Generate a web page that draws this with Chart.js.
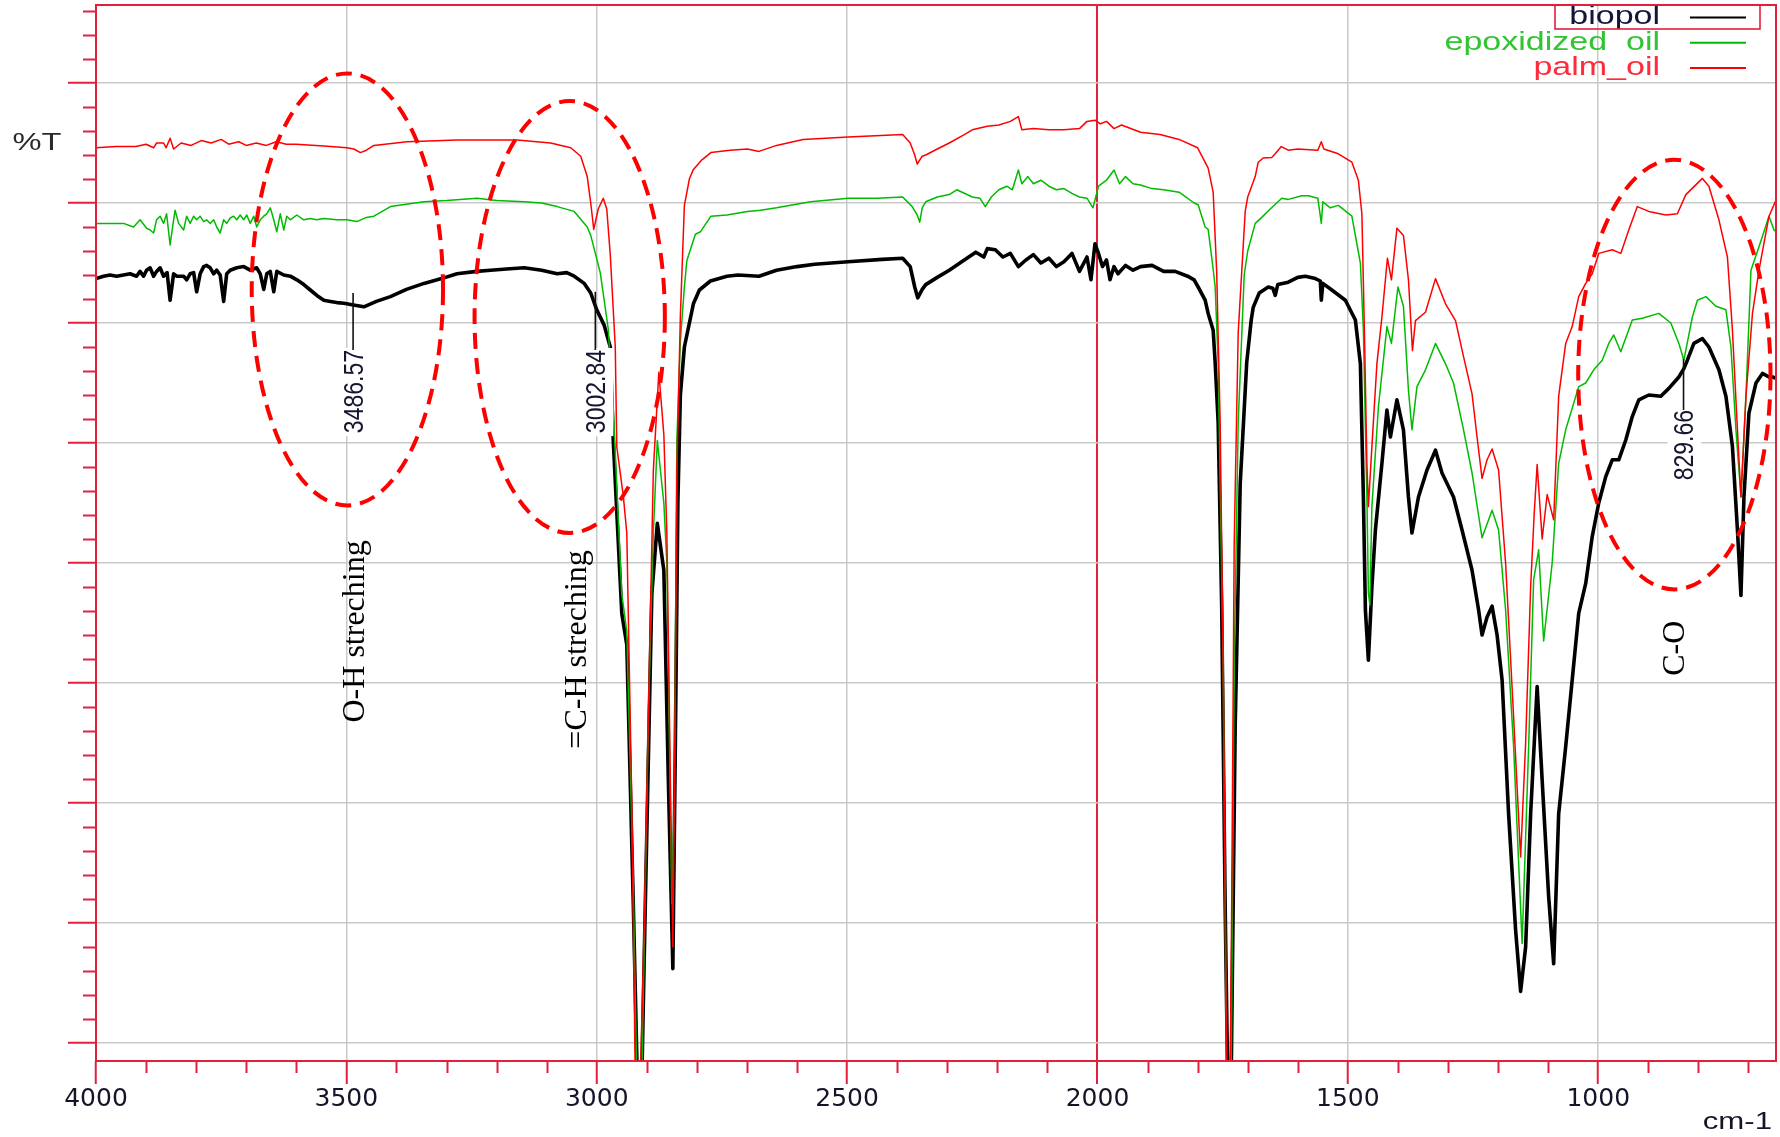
<!DOCTYPE html>
<html>
<head>
<meta charset="utf-8">
<script src="https://cdn.jsdelivr.net/npm/chart.js@4.4.1/dist/chart.umd.min.js"></script>
<style>
html,body{margin:0;padding:0;background:#fff;}
#c{display:block;}
</style>
</head>
<body>
<canvas id="c" width="1780" height="1137"></canvas>
<script>
// ---- data: [wavenumber cm-1, %T (arbitrary units, gridlines every 10)] ----
const seriesLabels = ['biopol', 'epoxidized  oil', 'palm_oil'];

const biopol = [[4000,63.7],[3985,63.9],[3972,64.0],[3959,63.9],[3945,64.0],[3932,64.1],[3919,63.9],[3912,64.3],[3905,63.9],[3899,64.4],[3892,64.6],[3885,63.9],[3879,64.3],[3872,64.6],[3865,63.9],[3858,64.2],[3852,61.9],[3845,64.1],[3839,63.9],[3825,63.9],[3819,63.6],[3812,64.1],[3805,64.2],[3799,62.6],[3792,64.1],[3785,64.7],[3779,64.8],[3772,64.6],[3765,64.1],[3759,64.4],[3752,64.0],[3745,61.8],[3739,64.1],[3732,64.4],[3719,64.6],[3705,64.7],[3692,64.4],[3679,64.6],[3672,64.1],[3665,62.8],[3659,64.1],[3652,64.3],[3645,62.6],[3639,64.3],[3625,64.0],[3612,63.9],[3599,63.6],[3585,63.2],[3572,62.75],[3559,62.3],[3545,61.9],[3532,61.8],[3519,61.7],[3505,61.65],[3486,61.5],[3465,61.35],[3440,61.8],[3412,62.2],[3380,62.8],[3345,63.3],[3310,63.7],[3279,64.1],[3240,64.3],[3212,64.4],[3180,64.5],[3145,64.6],[3110,64.4],[3079,64.1],[3060,64.2],[3045,63.9],[3025,63.3],[3012,62.5],[3000,61.1],[2985,59.8],[2973,58.0],[2967,50.2],[2950,35.8],[2940,33.2],[2927,11.6],[2919,-3],[2910,-3],[2903,11.6],[2890,37.4],[2879,43.3],[2866,39.4],[2857,21.9],[2848,6.2],[2843,25],[2838,45],[2833,54],[2825,58],[2807,61.6],[2795,62.75],[2773,63.5],[2740,63.9],[2718,64.0],[2676,63.9],[2641,64.4],[2600,64.7],[2565,64.9],[2498,65.1],[2430,65.3],[2389,65.4],[2374,64.7],[2365,63.0],[2359,62.1],[2350,62.8],[2343,63.2],[2320,63.8],[2296,64.4],[2266,65.25],[2243,65.9],[2227,65.5],[2220,66.2],[2204,66.1],[2189,65.5],[2174,65.8],[2158,64.7],[2143,65.25],[2128,65.7],[2113,65.0],[2097,65.4],[2082,64.7],[2067,65.1],[2051,65.8],[2036,64.3],[2021,65.5],[2013,63.6],[2005,66.6],[1998,65.8],[1990,64.7],[1982,65.25],[1975,63.6],[1967,64.7],[1959,64.1],[1944,64.8],[1929,64.4],[1914,64.7],[1891,64.8],[1868,64.3],[1845,64.3],[1820,63.9],[1807,63.6],[1799,63.0],[1785,61.9],[1779,60.8],[1769,59.4],[1765,56.7],[1759,51.7],[1752,36.5],[1745,11.3],[1740,-3],[1733,-3],[1725,26.4],[1715,46.6],[1702,56.7],[1693,60.25],[1689,61.3],[1677,62.5],[1659,63.0],[1650,62.9],[1645,62.3],[1640,63.2],[1619,63.4],[1600,63.8],[1585,63.9],[1565,63.7],[1555,63.5],[1553,61.9],[1550,63.3],[1532,62.75],[1505,61.9],[1485,60.25],[1475,56.6],[1469,45.5],[1465,36.1],[1459,31.9],[1452,38.0],[1445,42.75],[1432,48.3],[1422,52.75],[1415,50.5],[1402,53.6],[1389,51.1],[1379,45.5],[1372,42.5],[1359,45.5],[1342,47.75],[1325,49.4],[1312,47.5],[1289,45.5],[1272,42.75],[1252,39.4],[1239,36.1],[1232,34.0],[1222,35.5],[1212,36.4],[1202,34.0],[1192,30.25],[1179,19.1],[1165,9.4],[1155,4.3],[1145,8.0],[1135,19.1],[1122,29.7],[1112,21.9],[1099,12.2],[1089,6.6],[1079,19.1],[1065,24.7],[1052,30.25],[1039,35.8],[1025,38.3],[1012,42.2],[999,45.0],[985,47.2],[972,48.6],[959,48.6],[945,50.25],[932,52.2],[919,53.6],[899,54.0],[875,53.9],[859,54.55],[839,55.5],[829,56.2],[822,56.9],[809,58.3],[792,58.7],[779,58.0],[759,56.1],[745,53.9],[732,49.7],[722,42.75],[715,37.3],[709,45.5],[699,52.5],[685,55.0],[672,55.8],[659,55.5],[652,55.5],[645,55.4]];

const epoxidizedOil = [[4000,68.3],[3972,68.3],[3945,68.3],[3932,68.1],[3925,68.0],[3912,68.6],[3899,67.9],[3892,67.75],[3885,67.5],[3879,68.6],[3872,68.9],[3865,68.3],[3859,69.1],[3852,66.5],[3845,68.6],[3842,69.4],[3835,68.3],[3825,67.75],[3819,68.9],[3812,68.3],[3805,68.9],[3799,68.6],[3792,68.9],[3785,68.45],[3779,68.6],[3772,68.3],[3765,68.6],[3759,68.0],[3752,67.5],[3745,68.6],[3739,68.3],[3732,68.75],[3725,68.9],[3719,68.6],[3712,69.0],[3705,68.6],[3699,69.0],[3692,68.3],[3685,68.9],[3679,68.0],[3672,68.6],[3665,68.9],[3659,69.1],[3652,69.6],[3645,68.6],[3639,67.6],[3632,69.1],[3625,67.75],[3619,68.9],[3612,68.6],[3599,69.0],[3585,68.6],[3572,68.7],[3559,68.6],[3545,68.7],[3519,68.6],[3499,68.6],[3479,68.45],[3460,68.8],[3445,68.9],[3412,69.7],[3380,69.9],[3345,70.1],[3300,70.2],[3239,70.4],[3200,70.2],[3145,70.1],[3110,70.0],[3079,69.7],[3045,69.3],[3019,68.0],[3012,67.3],[2993,64.2],[2977,59.5],[2967,52.8],[2950,37.4],[2940,34.3],[2928,15],[2920,-3],[2910,-3],[2897,27],[2887,42.5],[2879,50.2],[2866,45],[2860,40],[2850,11.6],[2845,20],[2840,50.2],[2833,58.5],[2825,63],[2820,65.2],[2803,67.4],[2793,67.6],[2772,68.9],[2740,69.0],[2699,69.3],[2673,69.4],[2641,69.6],[2573,70.1],[2498,70.4],[2440,70.4],[2389,70.5],[2370,69.7],[2360,69.0],[2355,68.4],[2350,69.6],[2343,70.1],[2320,70.5],[2296,70.7],[2281,71.1],[2250,70.5],[2235,70.4],[2224,69.7],[2212,70.5],[2197,71.1],[2181,71.4],[2170,71.1],[2158,72.75],[2151,71.6],[2139,72.2],[2128,71.6],[2113,71.9],[2097,71.4],[2082,71.1],[2067,71.2],[2051,70.8],[2036,70.5],[2021,70.4],[2009,69.6],[1998,71.4],[1982,71.9],[1967,72.75],[1956,71.6],[1944,72.2],[1929,71.6],[1914,71.5],[1891,71.2],[1868,71.1],[1837,70.9],[1807,70.0],[1799,69.85],[1785,68.0],[1779,67.8],[1769,64.5],[1765,63.0],[1759,56.7],[1749,31.5],[1742,-3],[1733,-3],[1727,31.5],[1719,51.7],[1707,64.0],[1700,66.0],[1685,68.3],[1672,68.8],[1655,69.5],[1632,70.4],[1619,70.3],[1592,70.6],[1579,70.6],[1560,70.4],[1553,68.3],[1550,70.1],[1535,69.6],[1519,69.8],[1492,68.9],[1475,65.0],[1469,59.4],[1462,45.5],[1459,37.5],[1456,36.5],[1452,44.7],[1439,53.0],[1422,59.7],[1413,58.3],[1400,63.0],[1389,61.4],[1379,54.4],[1372,51.1],[1362,54.7],[1345,56.1],[1325,58.3],[1305,56.6],[1289,55.0],[1269,51.1],[1252,47.5],[1232,42.1],[1212,44.4],[1199,42.75],[1185,36.1],[1169,24.7],[1152,8.3],[1139,24.7],[1129,38.6],[1119,41.1],[1109,33.5],[1092,40.0],[1079,48.3],[1065,51.1],[1039,54.7],[1025,55.0],[1009,56.1],[992,56.9],[979,58.3],[969,59.0],[955,57.6],[932,60.25],[912,60.4],[879,60.8],[855,60.0],[839,58.3],[829,56.9],[812,60.5],[802,61.9],[785,62.2],[765,61.4],[745,61.1],[735,58.0],[725,51.1],[715,45.5],[705,53.9],[695,64.4],[679,66.35],[659,68.9],[649,67.75],[645,67.6]];

const palmOil = [[4000,74.6],[3960,74.7],[3920,74.7],[3900,74.9],[3885,74.6],[3879,75.0],[3865,75.0],[3860,74.6],[3852,75.4],[3845,74.5],[3830,75.0],[3810,74.8],[3790,75.2],[3770,75.0],[3750,75.3],[3735,74.9],[3715,75.1],[3700,74.8],[3680,75.0],[3660,74.8],[3640,75.1],[3620,74.9],[3600,74.9],[3545,74.75],[3499,74.6],[3485,74.5],[3472,74.2],[3460,74.4],[3445,74.8],[3379,75.1],[3279,75.25],[3159,75.25],[3092,75.0],[3052,74.6],[3032,73.9],[3019,72.2],[3012,70.0],[3006,67.8],[2997,69.5],[2987,70.4],[2980,69.5],[2973,65.7],[2963,58.0],[2960,49.7],[2947,45.6],[2940,42.5],[2930,20],[2923,-3],[2913,-3],[2905,10],[2897,27],[2887,47.7],[2876,55.9],[2866,50.7],[2860,42.5],[2853,21.9],[2848,8],[2843,30],[2840,47.7],[2833,60.6],[2825,69.8],[2815,72.0],[2807,72.8],[2790,73.6],[2772,74.2],[2734,74.4],[2699,74.5],[2676,74.3],[2641,74.8],[2588,75.3],[2498,75.5],[2389,75.7],[2374,75.0],[2365,74.0],[2360,73.25],[2350,73.9],[2343,74.0],[2320,74.5],[2296,75.0],[2266,75.7],[2250,76.1],[2220,76.4],[2197,76.5],[2174,76.8],[2158,77.2],[2151,76.1],[2128,76.2],[2097,76.1],[2067,76.1],[2036,76.2],[2021,76.8],[2005,76.9],[1994,76.6],[1982,76.8],[1967,76.2],[1952,76.5],[1914,75.9],[1875,75.7],[1837,75.3],[1800,74.6],[1779,72.9],[1769,70.9],[1762,64.3],[1755,51.7],[1749,31.5],[1742,-3],[1735,-3],[1732,11.3],[1727,41.6],[1719,59.2],[1705,69.3],[1700,70.5],[1685,72.2],[1679,73.4],[1669,73.75],[1652,73.8],[1645,74.1],[1633,74.7],[1619,74.4],[1600,74.5],[1560,74.4],[1553,75.1],[1548,74.5],[1519,74.1],[1492,73.4],[1479,71.9],[1472,69.1],[1467,59.4],[1462,48.3],[1459,44.7],[1452,49.7],[1442,56.6],[1432,60.5],[1421,65.4],[1413,63.6],[1402,67.9],[1389,67.3],[1379,63.6],[1371,57.7],[1365,60.2],[1345,60.9],[1325,63.7],[1305,61.6],[1285,60.2],[1269,57.2],[1252,54.1],[1242,50.5],[1232,47.05],[1222,48.6],[1212,49.5],[1199,47.75],[1185,40.0],[1170,28.0],[1155,15.5],[1145,25.0],[1135,38.0],[1128,44.0],[1122,48.2],[1112,42.0],[1102,45.7],[1089,43.6],[1079,53.9],[1065,58.3],[1052,59.7],[1039,62.2],[1025,63.3],[1012,64.1],[999,65.8],[972,66.1],[955,65.8],[939,67.75],[922,69.7],[899,69.3],[865,69.0],[842,69.1],[825,70.7],[792,72.05],[779,71.4],[759,68.6],[742,65.5],[732,59.4],[722,51.1],[715,45.5],[705,53.9],[692,60.8],[679,64.4],[659,68.9],[645,70.25]];

const xMajorTicks = [4000, 3500, 3000, 2500, 2000, 1500, 1000];
const yMajorTicks = [0, 10, 20, 30, 40, 50, 60, 70, 80];

// peak labels: [wavenumber, text]
const peakLabels = [[3486.57, '3486.57'], [3002.84, '3002.84'], [829.66, '829.66']];
// band annotations: [text, centre wavenumber, centre %T]
const bandNotes = [['O-H streching', 3482, 34.3], ['=C-H streching', 3038, 32.8], ['C-O', 846, 32.9]];
// dashed ellipses: [centre wavenumber, centre %T, half-width cm-1, half-height %T]
const ellipses = [[3498, 62.8, 191, 18.0], [3054, 60.5, 190, 18.0], [848, 55.7, 192, 17.9]];

// ---- styles ----
const FRAME = '#e2203c';
const GRID = '#c9c9c9';
const COLORS = ['#000000', '#00bb00', '#ff0000'];
const LEGEND_TEXT = ['#15153a', '#33c433', '#ff2a3a'];
const WIDTHS = [3.6, 1.5, 1.5];

// peak-label layout (in data units)
const peakLayout = {
  '3486.57': {from: 62.5, top: 57.75},
  '3002.84': {from: 62.6, top: 57.75},
  '829.66':  {from: 57.0, top: 52.75}
};

const toPts = arr => arr.map(p => ({x: p[0], y: p[1]}));

const extras = {
  id: 'extras',
  afterDatasetsDraw(chart) {
    const {ctx, chartArea: a, scales: {x, y}} = chart;
    ctx.save();
    // frame
    ctx.strokeStyle = FRAME;
    ctx.lineWidth = 2;
    ctx.strokeRect(a.left, a.top, a.right - a.left, a.bottom - a.top);

    // peak labels
    peakLabels.forEach(([wn, txt]) => {
      const L = peakLayout[txt];
      const px = x.getPixelForValue(wn);
      const y0 = y.getPixelForValue(L.from);
      const y1 = y.getPixelForValue(L.top);
      ctx.font = '23px "Liberation Sans", Arial, sans-serif';
      const len = ctx.measureText(txt).width;
      ctx.fillStyle = '#ffffff';
      ctx.fillRect(px - 16, y1 - 2, 34, len + 5);
      ctx.strokeStyle = '#111111';
      ctx.lineWidth = 1.6;
      ctx.beginPath();
      ctx.moveTo(px, y0);
      ctx.lineTo(px, y1);
      ctx.stroke();
      ctx.save();
      ctx.translate(px + 2, y1);
      ctx.scale(1.2, 1);
      ctx.rotate(-Math.PI / 2);
      ctx.textAlign = 'right';
      ctx.textBaseline = 'middle';
      ctx.fillStyle = '#151530';
      ctx.fillText(txt, 0, 0);
      ctx.restore();
    });

    // dashed ellipses
    ctx.strokeStyle = '#ff0000';
    ctx.lineWidth = 4;
    ctx.setLineDash([16, 9]);
    ellipses.forEach(([wn, t, dw, dt]) => {
      const cx = x.getPixelForValue(wn), cy = y.getPixelForValue(t);
      const rx = Math.abs(x.getPixelForValue(wn - dw) - cx);
      const ry = Math.abs(y.getPixelForValue(t + dt) - cy);
      ctx.beginPath();
      ctx.ellipse(cx, cy, rx, ry, 0, 0, Math.PI * 2);
      ctx.stroke();
    });
    ctx.setLineDash([]);

    // band notes (rotated serif text)
    ctx.font = '32px "Liberation Serif", "Times New Roman", serif';
    ctx.fillStyle = '#000000';
    bandNotes.forEach(([txt, wn, t]) => {
      ctx.save();
      ctx.translate(x.getPixelForValue(wn), y.getPixelForValue(t));
      ctx.rotate(-Math.PI / 2);
      ctx.textAlign = 'center';
      ctx.textBaseline = 'middle';
      ctx.fillText(txt, 0, 0);
      ctx.restore();
    });

    // legend (inside plot, top-right)
    const ds = chart.data.datasets;
    ctx.font = '25px "Liberation Sans", Arial, sans-serif';
    ds.forEach((d, i) => {
      const cy = a.top + 12.5 + i * 25.3;
      ctx.save();
      ctx.translate(a.right - 116, cy);
      ctx.scale(1.36, 1);
      ctx.textAlign = 'right';
      ctx.textBaseline = 'middle';
      ctx.fillStyle = LEGEND_TEXT[i];
      ctx.fillText(d.label, 0, 0);
      ctx.restore();
      ctx.strokeStyle = d.borderColor;
      ctx.lineWidth = 2;
      ctx.beginPath();
      ctx.moveTo(a.right - 86, cy);
      ctx.lineTo(a.right - 30, cy);
      ctx.stroke();
    });
    ctx.strokeStyle = FRAME;
    ctx.lineWidth = 1.6;
    ctx.strokeRect(a.right - 221, a.top, 205, 24);
    ctx.restore();
  },
  afterDraw(chart) {
    const {ctx, chartArea: a, scales: {x, y}} = chart;
    ctx.save();
    ctx.strokeStyle = FRAME;
    ctx.lineWidth = 2;
    // minor ticks on x (every 100 cm-1)
    for (let v = 700; v < 4000; v += 100) {
      if (v % 500 === 0) continue;
      const px = Math.round(x.getPixelForValue(v)) + 0.5;
      ctx.beginPath(); ctx.moveTo(px, a.bottom); ctx.lineTo(px, a.bottom + 12); ctx.stroke();
    }
    // minor ticks on y (every 2 units)
    for (let v = 2; v <= 86; v += 2) {
      if (v % 10 === 0) continue;
      const py = Math.round(y.getPixelForValue(v)) + 0.5;
      ctx.beginPath(); ctx.moveTo(a.left - 13, py); ctx.lineTo(a.left, py); ctx.stroke();
    }
    // %T label
    ctx.save();
    ctx.font = '24px "Liberation Sans", Arial, sans-serif';
    ctx.translate(a.left - 59, y.getPixelForValue(75));
    ctx.scale(1.36, 1);
    ctx.textAlign = 'center';
    ctx.textBaseline = 'middle';
    ctx.fillStyle = '#2a2a2a';
    ctx.fillText('%T', 0, 0);
    ctx.restore();
    // unit label
    ctx.save();
    ctx.font = '24px "Liberation Sans", Arial, sans-serif';
    ctx.translate(a.right - 4, a.bottom + 61);
    ctx.scale(1.3, 1);
    ctx.textAlign = 'right';
    ctx.textBaseline = 'middle';
    ctx.fillStyle = '#15152a';
    ctx.fillText('cm-1', 0, 0);
    ctx.restore();
    ctx.restore();
  }
};

const seriesData = [biopol, epoxidizedOil, palmOil];

new Chart(document.getElementById('c'), {
  type: 'line',
  data: {
    datasets: seriesData.map((s, i) => ({
      label: seriesLabels[i],
      data: toPts(s),
      borderColor: COLORS[i],
      backgroundColor: COLORS[i],
      borderWidth: WIDTHS[i],
      pointRadius: 0,
      tension: 0,
      fill: false,
      borderJoinStyle: 'round',
      order: 3 - i
    }))
  },
  options: {
    responsive: false,
    devicePixelRatio: 1,
    animation: false,
    layout: {padding: {top: 5, right: 4, left: 0, bottom: 0}},
    plugins: {legend: {display: false}, tooltip: {enabled: false}},
    scales: {
      x: {
        type: 'linear',
        reverse: true,
        min: 645,
        max: 4000,
        afterBuildTicks: s => { s.ticks = xMajorTicks.map(v => ({value: v})); },
        afterFit: s => { s.height = 76; },
        border: {display: false},
        grid: {
          color: c => (c.tick && c.tick.value === 2000) ? FRAME : GRID,
          lineWidth: c => (c.tick && c.tick.value === 2000) ? 2 : 1.5,
          drawTicks: true,
          tickLength: 23,
          tickColor: FRAME,
          tickWidth: 2
        },
        ticks: {
          callback: v => String(v),
          font: {family: '"DejaVu Sans", sans-serif', size: 25},
          color: '#15152a',
          padding: 0,
          maxRotation: 0,
          autoSkip: false
        }
      },
      y: {
        type: 'linear',
        min: -1.5,
        max: 86.5,
        afterBuildTicks: s => { s.ticks = yMajorTicks.map(v => ({value: v})); },
        afterFit: s => { s.width = 96; },
        border: {display: false},
        grid: {color: GRID, lineWidth: 1.5, drawTicks: true, tickLength: 28, tickColor: FRAME, tickWidth: 2},
        ticks: {display: false}
      }
    }
  },
  plugins: [extras]
});
</script>
</body>
</html>
